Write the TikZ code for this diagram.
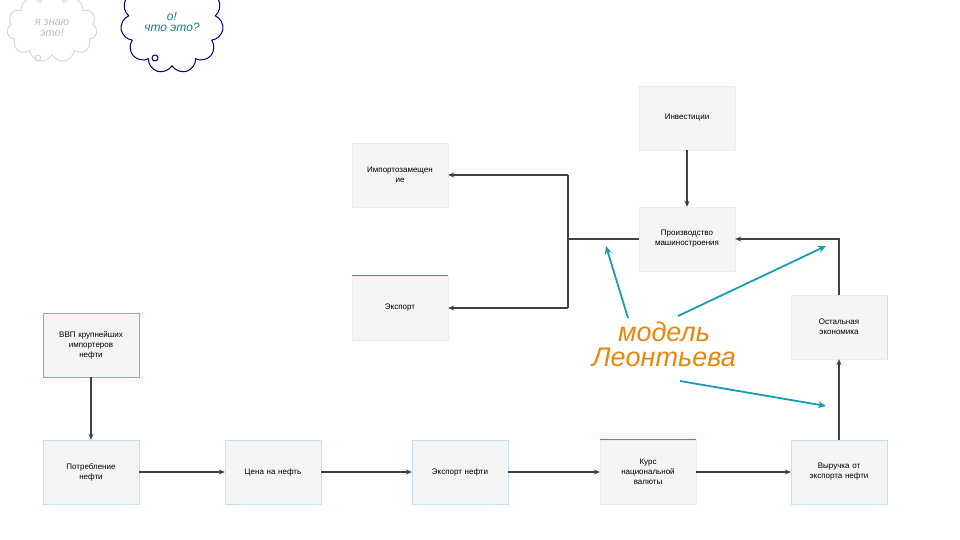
\documentclass[tikz,border=0pt]{standalone}
\usepackage{fontspec}
\setmainfont{Liberation Sans}
\usetikzlibrary{shapes.symbols,arrows.meta}
\definecolor{tealc}{HTML}{1A9CB0}
\definecolor{greenc}{HTML}{2E9E7A}
\definecolor{redc}{HTML}{E0505A}
\definecolor{orangec}{HTML}{E8870E}
\definecolor{bluec}{HTML}{BFE3F0}
\definecolor{boxf}{HTML}{F4F4F4}
\begin{document}
\begin{tikzpicture}[x=1pt,y=-1pt,
 box/.style={draw=gray!15,fill=boxf,minimum width=96pt,minimum height=64pt,align=center,font=\fontsize{8}{10}\selectfont,text width=90pt,inner sep=0pt},
 arr/.style={draw=black!75,line width=1.2pt,-{Stealth[length=6pt,width=5pt]}},
 ln/.style={draw=black!75,line width=1.2pt},
 edge/.style={line width=1.3pt,draw=#1},
 tarr/.style={draw=tealc,line width=1.8pt,-{Stealth[length=8pt,width=7pt]}}]
\useasboundingbox (0,0) rectangle (960,540);
\node[box] (inv) at (687,118) {Инвестиции};
\node[box] (imp) at (400,175) {Импортозамещен\\ие};
\node[box] (pro) at (687,239) {Производство\\машиностроения};
\node[box] (exp) at (400,308) {Экспорт};
\draw[edge=greenc] (exp.north west) -- (exp.north east);
\node[box] (oth) at (839,327) {Остальная\\экономика};
\draw[edge=bluec] (oth.north east) -- (oth.south east);
\node[box,draw=redc!70,line width=0.9pt] (gdp) at (91,345) {ВВП крупнейших\\импортеров\\нефти};
\node[box,draw=bluec] (con) at (91,472) {Потребление\\нефти};
\node[box,draw=bluec] (pri) at (273,472) {Цена на нефть};
\node[box,draw=bluec] (oil) at (460,472) {Экспорт нефти};
\node[box] (cur) at (648,472) {Курс\\национальной\\валюты};
\draw[edge=redc] (cur.north west) -- (cur.north east);
\node[box,draw=bluec] (rev) at (839,472) {Выручка от\\экспорта нефти};
\coordinate (j) at (568,239);
\draw[arr] (inv) -- (pro);
\draw[ln] (pro.west) -- (j);
\draw[ln] (j |- imp.east) -- (j |- exp.east);
\draw[arr] (j |- imp.east) -- (imp.east);
\draw[arr] (j |- exp.east) -- (exp.east);
\draw[arr] (oth.north) |- (pro.east);
\draw[arr] (rev) -- (oth);
\draw[arr] (gdp) -- (con);
\draw[arr] (con) -- (pri);
\draw[arr] (pri) -- (oil);
\draw[arr] (oil) -- (cur);
\draw[arr] (cur) -- (rev);
\node[text=orangec,font=\itshape\fontsize{27}{25}\selectfont,align=center] (lt) at (664,344) {модель\\Леонтьева};
\coordinate (t1) at (606,246);
\coordinate (t2) at (826,246);
\coordinate (t3) at (826,406);
\draw[tarr] (628,318) -- (t1);
\draw[tarr] (678,316) -- (t2);
\draw[tarr] (680,381) -- (t3);
\node[cloud,cloud puffs=11,draw=gray!30,line width=1pt,minimum width=90pt,minimum height=52pt,text=gray!50,align=center,font=\itshape\fontsize{11}{11}\selectfont] (c1) at (52,28) {я знаю\\это!};
\draw[gray!30,line width=1pt] (38,58) circle (3);
\node[cloud,cloud puffs=11,draw=blue!50!black,line width=1pt,minimum width=98pt,minimum height=50pt,text=tealc!80!black,align=center,font=\itshape\fontsize{12}{11}\selectfont] (c2) at (172,22) {о!\\что это?};
\draw[blue!50!black,line width=1pt] (155,58) circle (3);
\end{tikzpicture}
\end{document}
